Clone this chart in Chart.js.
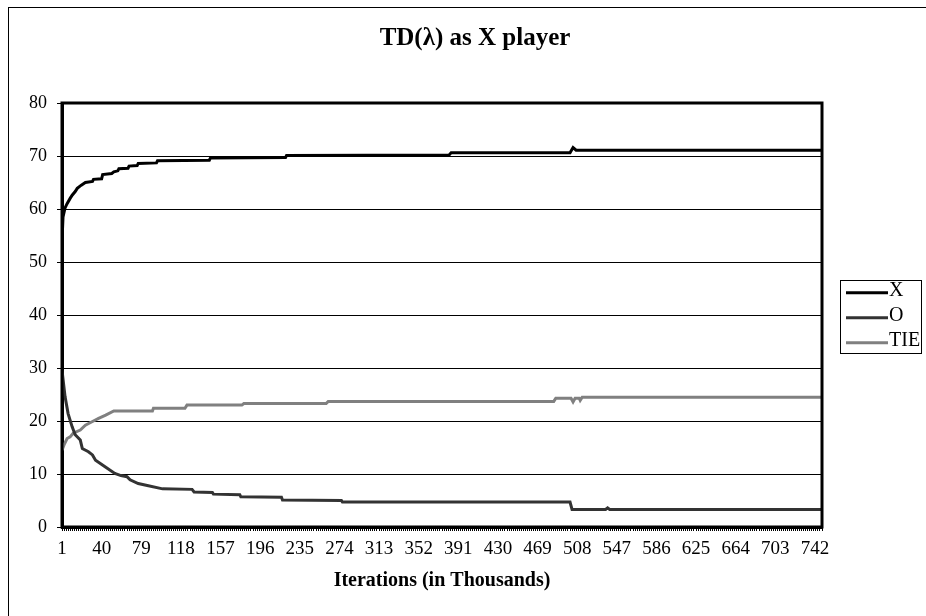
<!DOCTYPE html>
<html>
<head>
<meta charset="utf-8">
<script src="https://cdn.jsdelivr.net/npm/chart.js@4"></script>
<style>
html,body{margin:0;padding:0;background:#fff;}
#wrap{width:926px;height:616px;position:relative;}
</style>
</head>
<body>
<div id="wrap"><canvas id="c" width="926" height="616"></canvas></div>
<script>
// ---- data (iterations in thousands, percentages) ----
const chartTitle = 'TD(λ) as X player';
const axisTitle = 'Iterations (in Thousands)';
const tickLabels = [1,40,79,118,157,196,235,274,313,352,391,430,469,508,547,586,625,664,703,742];
const xIter = [1,2,4,6,9,11,14,16,20,24,31,32,40,41,50,52,56,57,66,67,75,76,94,95,146,147,221,222,382,384,501,504,507,749];
const xVals = [54,58.5,60.2,61,62,62.6,63.3,63.9,64.5,65,65.2,65.6,65.7,66.5,66.7,67,67.2,67.6,67.7,68.1,68.2,68.6,68.7,69.1,69.2,69.6,69.7,70.1,70.2,70.6,70.6,71.6,71.1,71.1];
const oIter = [1,4,7,11,14,19,21,27,31,34,43,53,59,65,68,76,86,100,129,131,149,150,176,177,217,218,276,277,501,503,536,538,540,749];
const oVals = [29.6,24.6,21.4,18.9,17.4,16.4,14.8,14.2,13.6,12.6,11.4,10.1,9.7,9.5,8.9,8.2,7.8,7.2,7.1,6.6,6.5,6.2,6.1,5.7,5.6,5.1,5.0,4.7,4.7,3.3,3.3,3.6,3.3,3.3];
const tIter = [1,3,6,9,12,19,24,31,37,44,52,90,91,122,124,178,180,261,263,485,487,502,504,506,510,511,513,749];
const tVals = [14.5,15.5,16.7,17,17.7,18.3,19.2,19.9,20.5,21.1,21.9,21.9,22.4,22.4,23,23,23.3,23.3,23.7,23.7,24.3,24.3,23.6,24.3,24.3,23.9,24.5,24.5];
const seriesNames = ['X','O','TIE'];
const xMin = 1, xMax = 749;

const pts = (a,b)=>a.map((v,i)=>({x:v,y:b[i]}));
const SERIF = '"Liberation Serif", "Times New Roman", serif';

const framePlugin = {
  id:'frame',
  beforeDraw(chart){
    const ctx = chart.ctx;
    ctx.save();
    ctx.fillStyle='#fff';
    ctx.fillRect(0,0,chart.width,chart.height);
    ctx.strokeStyle='#000'; ctx.lineWidth=1;
    ctx.strokeRect(8.5,7.5,2000,2000);
    // title
    ctx.fillStyle='#000';
    ctx.font='bold 25px '+SERIF;
    ctx.textAlign='center'; ctx.textBaseline='alphabetic';
    ctx.fillText(chartTitle, 475, 45);
    ctx.restore();
  },
  afterDatasetsDraw(chart){
    const {ctx, chartArea:a} = chart;
    ctx.save();
    ctx.strokeStyle='#000'; ctx.lineWidth=3;
    ctx.strokeRect(a.left, a.top, a.right-a.left, a.bottom-a.top);
    // legend
    const lx=840.5, ly=280.5, lw=81, lh=73;
    ctx.lineWidth=1;
    ctx.fillStyle='#fff';
    ctx.fillRect(lx,ly,lw,lh);
    ctx.strokeRect(lx,ly,lw,lh);
    ctx.font='20px '+SERIF;
    ctx.textBaseline='alphabetic'; ctx.textAlign='left';
    chart.data.datasets.forEach((ds,i)=>{
      const y = 292.7 + i*25;
      ctx.strokeStyle=ds.borderColor; ctx.lineWidth=3;
      ctx.beginPath(); ctx.moveTo(846,y); ctx.lineTo(888,y); ctx.stroke();
      ctx.fillStyle='#000';
      ctx.fillText(ds.label, 889, y+3.5);
    });
    ctx.restore();
  }
};

new Chart(document.getElementById('c'), {
  type:'line',
  data:{
    datasets:[
      {label:seriesNames[0], data:pts(xIter,xVals), borderColor:'#000000', borderWidth:3, pointRadius:0, tension:0},
      {label:seriesNames[1], data:pts(oIter,oVals), borderColor:'#333333', borderWidth:3, pointRadius:0, tension:0},
      {label:seriesNames[2], data:pts(tIter,tVals), borderColor:'#808080', borderWidth:3, pointRadius:0, tension:0}
    ]
  },
  options:{
    responsive:false, animation:false,
    layout:{padding:{left:0,right:104,top:103,bottom:0}},
    plugins:{
      legend:{display:false},
      tooltip:{enabled:false},
      title:{display:false}
    },
    scales:{
      x:{type:'linear', min:xMin, max:xMax,
        afterBuildTicks(s){ const t=[]; for(let v=xMin; v<=xMax; v++) t.push({value:v}); s.ticks=t; },
        afterFit(s){ s.height=89; },
        ticks:{autoSkip:false, maxRotation:0, minRotation:0, padding:7, color:'#000',
          font:{family:SERIF,size:19},
          callback:(v)=> tickLabels.includes(v) ? String(v) : ''},
        grid:{drawOnChartArea:false, drawTicks:true, tickLength:4, tickWidth:1,
          tickColor:(c)=> (c.index%2===0 ? '#000' : 'rgba(0,0,0,0)')},
        border:{display:true, color:'#000', width:3},
        title:{display:true, text:axisTitle, color:'#000',
          font:{family:SERIF, size:20, weight:'bold', lineHeight:1.2},
          padding:{top:0, bottom:23}}
      },
      y:{min:0, max:80,
        afterFit(s){ s.width=62; },
        ticks:{stepSize:10, color:'#000', padding:10, font:{family:SERIF,size:18}},
        grid:{color:'#000', lineWidth:1, tickLength:5, tickColor:'#000'},
        border:{display:true, color:'#000', width:3}
      }
    }
  },
  plugins:[framePlugin]
});
</script>
</body>
</html>
